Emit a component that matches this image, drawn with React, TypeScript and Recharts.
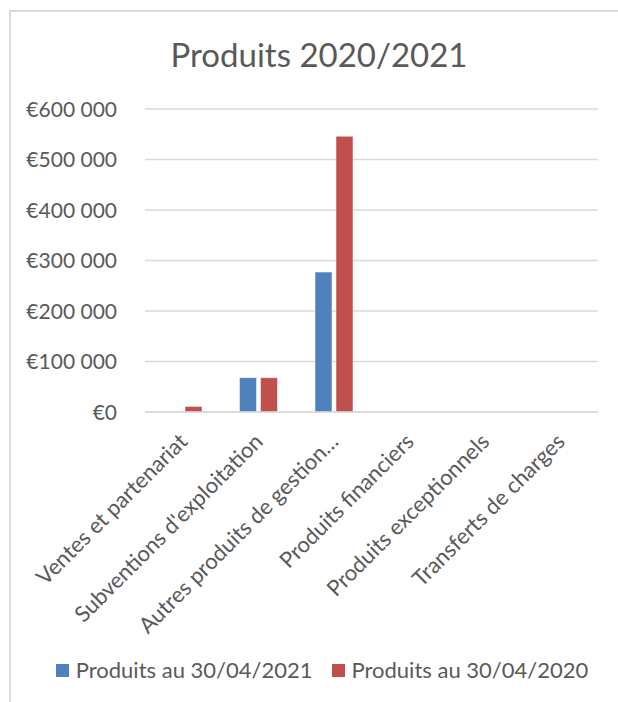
import { BarChart, Bar, XAxis, YAxis, CartesianGrid } from 'recharts'

const categories = [
  'Ventes et partenariat',
  "Subventions d'exploitation",
  'Autres produits de gestion…',
  'Produits financiers',
  'Produits exceptionnels',
  'Transferts de charges',
]

const produits2021 = [0, 68000, 277000, 0, 0, 0]
const produits2020 = [11000, 68000, 546000, 0, 0, 0]

const yTicks = [0, 100000, 200000, 300000, 400000, 500000, 600000]

const seriesNames = ['Produits au 30/04/2021', 'Produits au 30/04/2020']
const seriesColors = ['#4F81BD', '#C0504D']

const FONT = 'Lato, "Open Sans", sans-serif'
const TEXT = '#595959'

const chartData = categories.map((name, i) => ({
  name,
  p2021: produits2021[i],
  p2020: produits2020[i],
}))

// € 600 000 style
const formatEuro = (v: number) =>
  '€' + String(v).replace(/\B(?=(\d{3})+(?!\d))/g, ' ')

function YTick(props: any) {
  const { x, y, payload } = props
  return (
    <text
      x={x - 28}
      y={y}
      dy="0.36em"
      textAnchor="end"
      fill={TEXT}
      fontSize={21}
      fontFamily={FONT}
    >
      {formatEuro(payload.value)}
    </text>
  )
}

function XTick(props: any) {
  const { x, y, payload } = props
  const tx = x + 6
  const ty = y + 31
  return (
    <text
      x={tx}
      y={ty}
      transform={`rotate(-45, ${tx}, ${ty})`}
      textAnchor="end"
      fill={TEXT}
      fontSize={22}
      fontFamily={FONT}
    >
      {payload.value}
    </text>
  )
}

export default function App() {
  return (
    <div
      style={{
        position: 'absolute',
        left: 0,
        top: 0,
        width: 618,
        height: 702,
        overflow: 'hidden',
        background: '#fff',
      }}
    >
      {/* chart frame, cropped on the right and bottom */}
      <div
        style={{
          position: 'absolute',
          left: 9,
          top: 10,
          width: 800,
          height: 900,
          borderLeft: '2px solid #d9d9d9',
          borderTop: '2px solid #d9d9d9',
        }}
      />
      <div
        style={{
          position: 'absolute',
          left: 0,
          top: 38,
          width: 638,
          textAlign: 'center',
          fontFamily: FONT,
          fontSize: 33,
          lineHeight: '33px',
          color: TEXT,
        }}
      >
        Produits 2020/2021
      </div>
      <div style={{ position: 'absolute', left: 0, top: 0 }}>
        <BarChart
          width={618}
          height={702}
          data={chartData}
          margin={{ top: 109, right: 20, left: 0, bottom: 0 }}
          barSize={17}
          barGap={4}
        >
          <CartesianGrid vertical={false} stroke="#d9d9d9" strokeWidth={1.5} />
          <XAxis
            dataKey="name"
            interval={0}
            tickLine={false}
            tickSize={0}
            tickMargin={0}
            axisLine={{ stroke: '#d9d9d9', strokeWidth: 1.5 }}
            tick={<XTick />}
            height={290}
          />
          <YAxis
            width={145}
            domain={[0, 600000]}
            ticks={yTicks}
            interval={0}
            tickLine={false}
            tickSize={0}
            tickMargin={0}
            axisLine={false}
            tick={<YTick />}
          />
          <Bar
            dataKey="p2021"
            name={seriesNames[0]}
            fill={seriesColors[0]}
            stroke="#fff"
            strokeWidth={0.5}
            isAnimationActive={false}
          />
          <Bar
            dataKey="p2020"
            name={seriesNames[1]}
            fill={seriesColors[1]}
            stroke="#fff"
            strokeWidth={0.5}
            isAnimationActive={false}
          />
        </BarChart>
      </div>
      {/* legend */}
      <div
        style={{
          position: 'absolute',
          left: 13,
          top: 655,
          width: 618,
          display: 'flex',
          justifyContent: 'center',
          alignItems: 'center',
          gap: 19,
          fontFamily: FONT,
          fontSize: 22,
          lineHeight: '30px',
          color: TEXT,
        }}
      >
        {seriesNames.map((n, i) => (
          <div key={n} style={{ display: 'flex', alignItems: 'center', gap: 7 }}>
            <div style={{ width: 13, height: 13, background: seriesColors[i] }} />
            <span>{n}</span>
          </div>
        ))}
      </div>
    </div>
  )
}
